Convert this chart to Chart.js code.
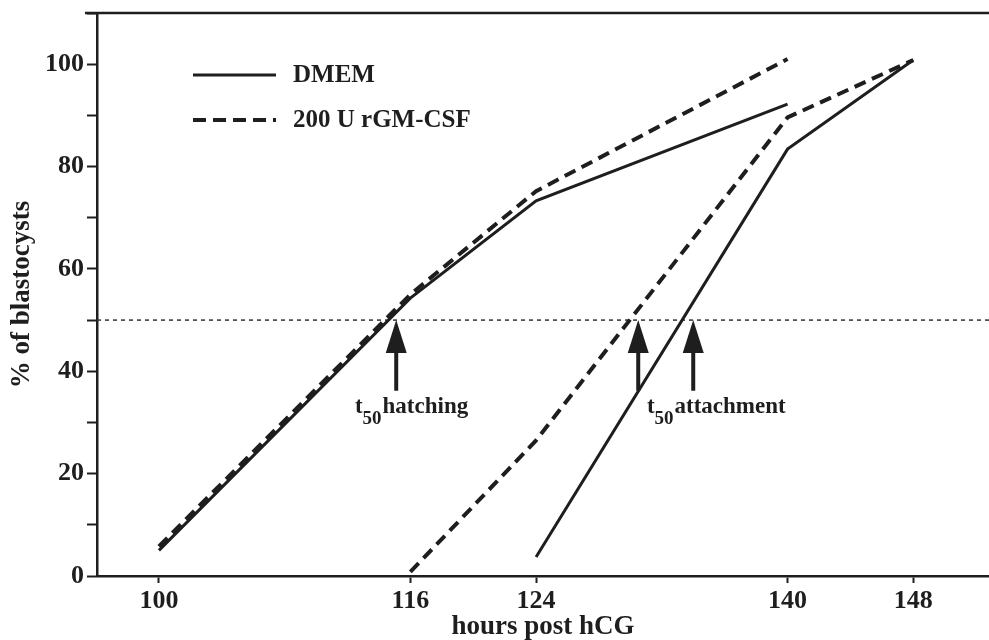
<!DOCTYPE html>
<html>
<head>
<meta charset="utf-8">
<script src="https://cdn.jsdelivr.net/npm/chart.js@4.4.1/dist/chart.umd.min.js"></script>
<style>
  body { margin: 0; background: #fff; }
  canvas { display: block; }
</style>
</head>
<body>
<canvas id="chart" width="989" height="640"></canvas>
<script>
const xTicks = [100, 116, 124, 140, 148];

const dmemHatchX = [100, 116, 124, 140];
const dmemHatchY = [5, 54.3, 73.3, 92.2];
const gmHatchX = [100, 116, 124, 140];
const gmHatchY = [5.8, 55, 75.2, 101];

const dmemAttachX = [124, 140, 148];
const dmemAttachY = [3.7, 83.4, 100.8];
const gmAttachX = [116, 124, 140, 148];
const gmAttachY = [0.8, 26.5, 89.6, 100.8];

const t50Level = 50;
const t50ArrowX = [115.1, 130.5, 134.0];

const X_MIN = 96.06, X_MAX = 152.82;
const INK = '#1e1e1e';
const SERIF = "'Liberation Serif', 'DejaVu Serif', serif";

function toPoints(xs, ys) {
    return xs.map((x, i) => ({ x: x, y: ys[i] }));
}

const solidStyle = { borderColor: INK, borderWidth: 3, pointRadius: 0, tension: 0, fill: false };
const dashStyle = { borderColor: INK, borderWidth: 4, borderDash: [12, 7], pointRadius: 0, tension: 0, fill: false };

// arrows, t50 labels, legend and the top frame line
const decorations = {
    id: 'decorations',
    afterDatasetsDraw(chart) {
        const ctx = chart.ctx;
        const xs = chart.scales.x, ys = chart.scales.y;
        const area = chart.chartArea;
        ctx.save();
        ctx.strokeStyle = INK;
        ctx.fillStyle = INK;

        // top line
        ctx.lineWidth = 2.5;
        ctx.beginPath();
        ctx.moveTo(85, area.top);
        ctx.lineTo(area.right, area.top);
        ctx.stroke();

        // arrows pointing up to the 50% line
        const tipY = ys.getPixelForValue(t50Level);
        const baseY = ys.getPixelForValue(36.2);
        t50ArrowX.forEach(v => {
            const px = xs.getPixelForValue(v);
            ctx.lineWidth = 4;
            ctx.beginPath();
            ctx.moveTo(px, tipY + 28);
            ctx.lineTo(px, baseY);
            ctx.stroke();
            ctx.beginPath();
            ctx.moveTo(px, tipY);
            ctx.lineTo(px - 10.5, tipY + 33);
            ctx.lineTo(px + 10.5, tipY + 33);
            ctx.closePath();
            ctx.fill();
        });

        // t50 labels
        function t50Label(xv, yv, word) {
            let px = xs.getPixelForValue(xv);
            const py = ys.getPixelForValue(yv);
            ctx.textBaseline = 'alphabetic';
            ctx.textAlign = 'left';
            ctx.font = 'bold 23px ' + SERIF;
            ctx.fillText('t', px, py);
            px += ctx.measureText('t').width;
            ctx.font = 'bold 19px ' + SERIF;
            ctx.fillText('50', px, py + 11);
            px += ctx.measureText('50').width + 1;
            ctx.font = 'bold 23px ' + SERIF;
            ctx.fillText(word, px, py);
        }
        t50Label(112.47, 31.8, 'hatching');
        t50Label(131.05, 31.8, 'attachment');

        // legend
        ctx.font = 'bold 25px ' + SERIF;
        ctx.textBaseline = 'middle';
        ctx.lineWidth = 3;
        ctx.setLineDash([]);
        ctx.beginPath();
        ctx.moveTo(193, 75);
        ctx.lineTo(276, 75);
        ctx.stroke();
        ctx.fillText('DMEM', 293, 76);
        ctx.lineWidth = 4;
        ctx.setLineDash([13, 7]);
        ctx.beginPath();
        ctx.moveTo(193, 120);
        ctx.lineTo(276, 120);
        ctx.stroke();
        ctx.setLineDash([]);
        ctx.fillText('200 U rGM-CSF', 293, 121);
        ctx.restore();
    }
};

new Chart(document.getElementById('chart'), {
    type: 'line',
    data: {
        datasets: [
            Object.assign({ label: 'DMEM hatching', data: toPoints(dmemHatchX, dmemHatchY) }, solidStyle),
            Object.assign({ label: '200 U rGM-CSF hatching', data: toPoints(gmHatchX, gmHatchY) }, dashStyle),
            Object.assign({ label: 'DMEM attachment', data: toPoints(dmemAttachX, dmemAttachY) }, solidStyle),
            Object.assign({ label: '200 U rGM-CSF attachment', data: toPoints(gmAttachX, gmAttachY) }, dashStyle),
            {
                label: 't50',
                data: [{ x: X_MIN, y: t50Level }, { x: X_MAX, y: t50Level }],
                borderColor: '#333',
                borderWidth: 1.5,
                borderDash: [4, 4],
                pointRadius: 0
            }
        ]
    },
    options: {
        responsive: false,
        animation: false,
        devicePixelRatio: 1,
        layout: { padding: { top: 13, right: 0, left: 0, bottom: 0 } },
        plugins: {
            legend: { display: false },
            tooltip: { enabled: false }
        },
        scales: {
            x: {
                type: 'linear',
                min: X_MIN,
                max: X_MAX,
                afterBuildTicks: scale => { scale.ticks = xTicks.map(v => ({ value: v })); },
                afterFit: scale => {
                    scale.height = 64;
                    scale.paddingLeft = 0;
                    scale.paddingRight = 0;
                },
                border: { display: true, color: INK, width: 2.5 },
                grid: { drawOnChartArea: false, drawTicks: true, tickLength: 7, tickColor: INK, tickWidth: 2 },
                ticks: {
                    color: INK,
                    padding: 3,
                    maxRotation: 0,
                    font: { family: SERIF, size: 26, weight: 'bold' },
                    callback: v => String(v)
                },
                title: {
                    display: true,
                    text: 'hours post hCG',
                    color: INK,
                    padding: { top: 0, bottom: -1 },
                    font: { family: SERIF, size: 27, weight: 'bold', lineHeight: 1 }
                }
            },
            y: {
                min: 0,
                max: 110,
                afterFit: scale => {
                    scale.width = 97;
                    scale.paddingTop = 0;
                    scale.paddingBottom = 0;
                },
                border: { display: true, color: INK, width: 2.5 },
                grid: { drawOnChartArea: false, drawTicks: true, tickLength: 10, tickColor: INK, tickWidth: 2 },
                ticks: {
                    stepSize: 10,
                    color: INK,
                    padding: 3,
                    font: { family: SERIF, size: 26, weight: 'bold' },
                    callback: v => (v % 20 === 0 && v <= 100 ? String(v) : '')
                },
                title: {
                    display: true,
                    text: '% of blastocysts',
                    color: INK,
                    padding: { top: 6, bottom: 0 },
                    font: { family: SERIF, size: 27, weight: 'bold' }
                }
            }
        }
    },
    plugins: [decorations]
});
</script>
</body>
</html>
